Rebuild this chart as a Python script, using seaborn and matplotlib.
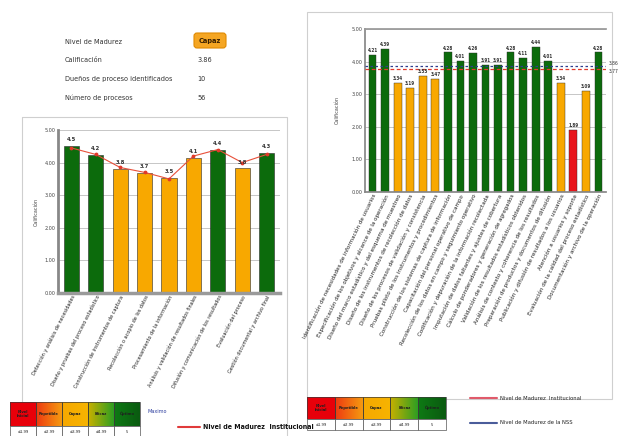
import numpy as np
import pandas as pd
import matplotlib
matplotlib.use("Agg")
import matplotlib.pyplot as plt
from matplotlib.patches import Rectangle, FancyBboxPatch
from matplotlib.colors import LinearSegmentedColormap
import seaborn as sns

sns.set_theme(style="white")
plt.rcParams['font.family'] = ['DejaVu Sans']

# ---------------- data ----------------
left_categories = [
    "Detección y análisis de necesidades",
    "Diseño y pruebas del proceso estadístico",
    "Construcción de instrumentos de captura",
    "Recolección o acopio de los datos",
    "Procesamiento de la información",
    "Análisis y validación de resultados finales",
    "Difusión y comunicación de los resultados",
    "Evaluación del proceso",
    "Gestión documental y archivo final",
]
left_values = [4.51, 4.24, 3.80, 3.69, 3.53, 4.13, 4.40, 3.82, 4.29]
left_institutional = [4.45, 4.25, 3.85, 3.70, 3.50, 4.20, 4.40, 4.00, 4.25]
left_levels = ["alto", "alto", "medio", "medio", "medio", "medio", "alto", "medio", "alto"]

right_categories = [
    "Identificación de necesidades de información de usuarios",
    "Especificación de los objetivos y alcance de la operación",
    "Diseño del marco estadístico y del esquema de muestreo",
    "Diseño de los instrumentos de recolección de datos",
    "Diseño de los procesos de validación y consistencia",
    "Pruebas piloto de los instrumentos y procedimientos",
    "Construcción de los sistemas de captura de información",
    "Capacitación del personal operativo de campo",
    "Recolección de los datos en campo y seguimiento operativo",
    "Codificación y depuración de la información recolectada",
    "Imputación de datos faltantes y ajustes de cobertura",
    "Cálculo de ponderadores y generación de agregados",
    "Validación de los resultados estadísticos obtenidos",
    "Análisis de contexto y coherencia de los resultados",
    "Preparación de productos y documentos de difusión",
    "Publicación y difusión de resultados a los usuarios",
    "Atención a usuarios y soporte",
    "Evaluación de la calidad del proceso estadístico",
    "Documentación y archivo de la operación",
]
right_values = [4.21, 4.39, 3.34, 3.19, 3.55, 3.47, 4.28, 4.01, 4.26, 3.91,
                3.91, 4.28, 4.11, 4.44, 4.01, 3.34, 1.89, 3.09, 4.28]
right_levels = ["alto", "alto", "medio", "medio", "medio", "medio", "alto", "alto",
                "alto", "alto", "alto", "alto", "alto", "alto", "alto", "medio",
                "bajo", "medio", "alto"]
nss_level = 3.86
institutional_level = 3.77

info_labels = ["Nivel de Madurez", "Calificación", "Dueños de proceso identificados", "Número de procesos"]
info_values = ["Capaz", "3.86", "10", "56"]

scale_names = ["Nivel\nInicial", "Repetible", "Capaz", "Eficaz", "Óptimo"]
scale_limits = ["≤1.99", "≤2.99", "≤3.99", "≤4.99", "5"]

level_palette = {"alto": "#0C6B0C", "medio": "#F8A800", "bajo": "#E8151B"}

W, H = 624, 436
fig = plt.figure(figsize=(W / 100, H / 100), dpi=100)
fig.patch.set_facecolor("white")

COND = dict(fontstretch="condensed")

# overlay in pixel coordinates
ov = fig.add_axes([0, 0, 1, 1], zorder=0)
ov.set_xlim(0, W)
ov.set_ylim(H, 0)
ov.axis("off")


def ax_rect(x0, x1, y0, y1):
    return [x0 / W, (H - y1) / H, (x1 - x0) / W, (y1 - y0) / H]


# panel frames
ov.add_patch(Rectangle((22, 117), 265, 330, fill=False, ec="#cfcfcf", lw=0.8))
ov.add_patch(Rectangle((307, 12), 305, 387, fill=False, ec="#cfcfcf", lw=0.8))

# info block
rows_y = [41.7, 60, 79, 97.7]
for lab, val, y in zip(info_labels, info_values, rows_y):
    ov.text(65, y, lab, fontsize=5.2, color="#333333", va="center", ha="left", **COND)
    if lab == "Nivel de Madurez":
        ov.add_patch(FancyBboxPatch((194, 33), 32, 15, boxstyle="round,pad=0,rounding_size=3",
                                    fc="#F5A623", ec="#E08A00", lw=0.8))
        ov.text(210, 40.5, val, fontsize=5.3, color="#3a2000", va="center", ha="center",
                fontweight="bold", **COND)
    else:
        ov.text(197, y, val, fontsize=5.2, color="#333333", va="center", ha="left", **COND)


def style_axis(ax):
    ax.set_ylim(0, 5)
    ax.set_yticks([0, 1, 2, 3, 4, 5])
    ax.set_yticklabels([f"{v:.2f}" for v in [0, 1, 2, 3, 4, 5]], fontsize=3.5, color="#444444")
    ax.tick_params(axis="y", length=0, pad=2)
    ax.tick_params(axis="x", length=0, pad=1)
    ax.yaxis.grid(True, color="#bdbdbd", lw=0.6)
    ax.set_axisbelow(True)
    ax.set_facecolor("none")
    for s in ["top", "right"]:
        ax.spines[s].set_visible(False)
    ax.set_xlabel("")


# ---------------- left chart ----------------
axL = fig.add_axes(ax_rect(58, 280, 130, 293), zorder=2)
dfL = pd.DataFrame({"cat": left_categories, "val": left_values, "lvl": left_levels})
sns.barplot(data=dfL, x="cat", y="val", hue="lvl", palette=level_palette, dodge=False,
            width=0.62, ax=axL, legend=False, edgecolor="#2a2a2a", linewidth=0.4,
            saturation=1)
sns.lineplot(x=np.arange(len(left_categories)), y=left_institutional, ax=axL,
             color="#E8503A", lw=0.8, zorder=5)
axL.scatter(np.arange(len(left_categories)), left_institutional, s=3, color="#E03A2A", zorder=6)
style_axis(axL)
axL.spines["left"].set_color("#888888")
axL.spines["left"].set_linewidth(2.0)
axL.spines["bottom"].set_color("#9a9a9a")
axL.spines["bottom"].set_linewidth(2.5)
axL.set_xlim(-0.55, len(left_categories) - 0.45)
axL.set_ylabel("Calificación", fontsize=3.5, color="#444444", labelpad=4)
axL.set_xticks(np.arange(len(left_categories)))
axL.set_xticklabels(left_categories, rotation=63, ha="right", rotation_mode="anchor",
                    fontsize=4.0, color="#222222", **COND)
for i, v in enumerate(left_values):
    axL.text(i, v + 0.12, f"{v:.1f}", ha="center", va="bottom", fontsize=3.8,
             fontweight="bold", color="#333333", zorder=7)

# ---------------- right chart ----------------
axR = fig.add_axes(ax_rect(365, 606, 29, 192), zorder=2)
dfR = pd.DataFrame({"cat": right_categories, "val": right_values, "lvl": right_levels})
sns.barplot(data=dfR, x="cat", y="val", hue="lvl", palette=level_palette, dodge=False,
            width=0.62, ax=axR, legend=False, edgecolor="#2a2a2a", linewidth=0.3,
            saturation=1)
style_axis(axR)
axR.spines["left"].set_color("#888888")
axR.spines["bottom"].set_color("#888888")
axR.spines["top"].set_visible(True)
axR.spines["top"].set_color("#999999")
axR.set_xlim(-0.6, len(right_categories) - 0.4)
axR.axhline(nss_level, color="#2E3F8F", ls=(0, (2, 2)), lw=0.9, zorder=5)
axR.axhline(institutional_level, color="#E03A2A", ls=(0, (3, 2)), lw=0.9, zorder=5)
axR.text(1.01, nss_level, f"{nss_level:.2f}", transform=axR.get_yaxis_transform(),
         fontsize=3.6, va="bottom", ha="left", color="#333333", clip_on=False, **COND)
axR.text(1.01, institutional_level, f"{institutional_level:.2f}", transform=axR.get_yaxis_transform(),
         fontsize=3.6, va="top", ha="left", color="#333333", clip_on=False, **COND)
axR.set_ylabel("Calificación", fontsize=3.5, color="#444444", labelpad=8)
axR.set_xticks(np.arange(len(right_categories)))
axR.set_xticklabels(right_categories, rotation=64, ha="right", rotation_mode="anchor",
                    fontsize=4.5, color="#222222", **COND)
for i, v in enumerate(right_values):
    axR.text(i, v + 0.06, f"{v:.2f}", ha="center", va="bottom", fontsize=3.3,
             fontweight="bold", color="#333333", zorder=7, **COND)

# ---------------- scale tables & legends ----------------
top = fig.add_axes([0, 0, 1, 1], zorder=10)
top.set_xlim(0, W)
top.set_ylim(H, 0)
top.axis("off")
cell_cmaps = [
    ["#E8000A", "#E8000A"],
    ["#EE3A10", "#F59A10"],
    ["#F7A800", "#F6B400"],
    ["#C8B000", "#2E9E22"],
    ["#0E7A14", "#0A5A10"],
]


def scale_table(x0, x1, y0, ymid, y1, fs):
    xs = np.linspace(x0, x1, len(scale_names) + 1)
    grad = np.linspace(0, 1, 64).reshape(1, -1)
    for k in range(len(scale_names)):
        cm = LinearSegmentedColormap.from_list(f"c{k}", cell_cmaps[k])
        top.imshow(grad, cmap=cm, extent=[xs[k], xs[k + 1], ymid, y0], aspect="auto", zorder=1)
        top.add_patch(Rectangle((xs[k], y0), xs[k + 1] - xs[k], ymid - y0, fill=False,
                                ec="#3a3a3a", lw=0.5, zorder=2))
        top.add_patch(Rectangle((xs[k], ymid), xs[k + 1] - xs[k], y1 - ymid, fc="white",
                                ec="#555555", lw=0.5, zorder=2))
        top.text((xs[k] + xs[k + 1]) / 2, (y0 + ymid) / 2, scale_names[k], fontsize=fs,
                 ha="center", va="center", color="#202020", fontweight="bold", zorder=3,
                 linespacing=0.9, **COND)
        top.text((xs[k] + xs[k + 1]) / 2, (ymid + y1) / 2, scale_limits[k], fontsize=fs,
                 ha="center", va="center", color="#202020", zorder=3, **COND)


scale_table(10, 140, 402, 426, 438, 3.0)
scale_table(307, 446, 397, 419, 430, 3.0)

top.text(148, 411, "Maximo", fontsize=4, color="#2E3F9F", va="center", ha="left", **COND)
top.plot([178, 200], [427, 427], color="#E03A3A", lw=1.5)
top.text(203, 427, "Nivel de Madurez  Institucional", fontsize=5.0, color="#111111",
         va="center", ha="left", fontweight="bold", **COND)

top.plot([470, 497], [398, 398], color="#E05A6A", lw=1.5)
top.text(500, 398, "Nivel de Madurez  Institucional", fontsize=4.2, color="#222222",
         va="center", ha="left", **COND)
top.plot([470, 497], [423, 423], color="#4A5C9A", lw=1.5)
top.text(500, 422, "Nivel de Madurez de la NSS", fontsize=4.2, color="#222222",
         va="center", ha="left", **COND)

top.set_xlim(0, W)
top.set_ylim(H, 0)

fig.savefig("out.png", dpi=100)
